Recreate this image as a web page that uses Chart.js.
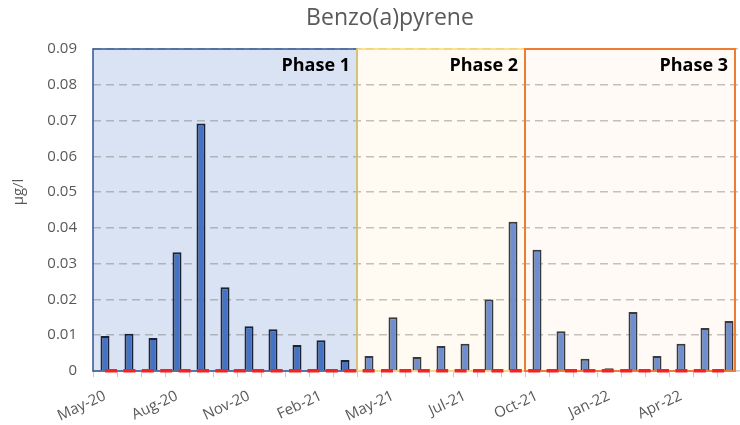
<!DOCTYPE html>
<html>
<head>
<meta charset="utf-8">
<script src="https://cdn.jsdelivr.net/npm/chart.js@4.4.0/dist/chart.umd.min.js"></script>
<style>
  html, body { margin: 0; padding: 0; background: #fff; overflow: hidden; }
</style>
</head>
<body>
<canvas id="bapChart" width="780" height="425"></canvas>
<script>
//sampling months, one bar each (June 2021 was sampled twice)
const months = ['May-20', 'Jun-20', 'Jul-20', 'Aug-20', 'Sep-20', 'Oct-20', 'Nov-20', 'Dec-20', 'Jan-21',
  'Feb-21', 'Mar-21', 'Apr-21', 'May-21', 'Jun-21', 'Jun-21', 'Jul-21', 'Aug-21', 'Sep-21', 'Oct-21',
  'Nov-21', 'Dec-21', 'Jan-22', 'Feb-22', 'Mar-22', 'Apr-22', 'May-22', 'Jun-22'];

//measured benzo(a)pyrene, ug/l
const bapValues = [0.0098, 0.0104, 0.0092, 0.0332, 0.0692, 0.0234, 0.0125, 0.0117, 0.0073, 0.0086, 0.0031,
  0.0042, 0.0150, 0.0039, 0.0070, 0.0076, 0.0200, 0.0417,
  0.0339, 0.0111, 0.0034, 0.0008, 0.0165, 0.0042, 0.0076, 0.0120, 0.0140];

//red dashed reference line along the bottom
const limitValues = [0.0001, 0.0001, 0.0001, 0.0001, 0.0001, 0.0001, 0.0001, 0.0001, 0.0001, 0.0001, 0.0001,
  0.0001, 0.0001, 0.0001, 0.0001, 0.0001, 0.0001, 0.0001, 0.0001, 0.0001, 0.0001, 0.0001, 0.0001, 0.0001,
  0.0001, 0.0001, 0.0001];

//phases, as category positions
const phaseNames = ['Phase 1', 'Phase 2', 'Phase 3'];
const phaseStart = [-0.5, 10.5, 17.5];
const phaseEnd = [10.5, 17.5, 26.25];
const phaseFill = ['#DAE3F3', '#FFFBF3', '#FFFAF6'];
const phaseLine = ['#2F5597', '#FFD966', '#ED7D31'];

const yTicks = [0, 0.01, 0.02, 0.03, 0.04, 0.05, 0.06, 0.07, 0.08, 0.09];

//phase 1 bars are darker than the later ones
const barFill = bapValues.map((v, i) => i <= 10 ? '#4472C4' : '#6E8ECF');
const barLine = bapValues.map((v, i) => i <= 10 ? '#1B2233' : '#3A3A3A');

function phaseBox(chart, i) {
  const x = chart.scales.x, y = chart.scales.y;
  const left = x.getPixelForValue(phaseStart[i]);
  const right = x.getPixelForValue(phaseEnd[i]);
  return { left, right, top: y.getPixelForValue(0.09), bottom: y.getPixelForValue(0) };
}

const phasePlugin = {
  id: 'phases',
  beforeDraw(chart) {
    const ctx = chart.ctx;
    ctx.save();
    phaseNames.forEach((name, i) => {
      const b = phaseBox(chart, i);
      ctx.fillStyle = phaseFill[i];
      ctx.fillRect(b.left, b.top, b.right - b.left, b.bottom - b.top);
    });

    //title is centred on the whole (uncropped) canvas, axis title sits a bit above the middle
    ctx.fillStyle = '#595959';
    ctx.textAlign = 'center';
    ctx.textBaseline = 'middle';
    ctx.font = '23px "Open Sans"';
    ctx.fillText('Benzo(a)pyrene', chart.width / 2, 18);
    ctx.translate(19, 192);
    ctx.rotate(-Math.PI / 2);
    ctx.font = '15px "Open Sans"';
    ctx.fillText('µg/l', 0, 0);
    ctx.restore();
  },
  beforeDatasetsDraw(chart) {
    const ctx = chart.ctx;
    ctx.save();
    phaseNames.forEach((name, i) => {
      const b = phaseBox(chart, i);
      ctx.strokeStyle = phaseLine[i];
      ctx.lineWidth = i === 2 ? 2 : 1.5;
      ctx.strokeRect(b.left, b.top, b.right - b.left, b.bottom - b.top);
      ctx.fillStyle = '#000';
      ctx.font = 'bold 18px "Open Sans"';
      ctx.textAlign = 'right';
      ctx.textBaseline = 'middle';
      ctx.fillText(name, b.right - 7, b.top + 17);
    });
    ctx.restore();
  }
};

let ctx = document.getElementById('bapChart').getContext('2d');
let chart = new Chart(ctx, {
  type: 'bar',
  data: {
    labels: months,
    datasets: [{
      type: 'line',
      data: limitValues,
      borderColor: '#F52222',
      borderWidth: 3.5,
      borderDash: [12, 6.4],
      pointRadius: 0,
      clip: 6,
      order: 0
    }, {
      data: bapValues,
      backgroundColor: barFill,
      borderColor: barLine,
      borderWidth: 2,
      barPercentage: 0.375,
      categoryPercentage: 1,
      order: 1
    }]
  },
  options: {
    responsive: false,
    animation: false,
    layout: { padding: { left: 0, right: 39, top: 49, bottom: 0 } },
    plugins: {
      legend: { display: false },
      tooltip: { enabled: false },
      title: { display: false }
    },
    scales: {
      x: {
        afterFit: scale => { scale.height = 54; },
        grid: { drawOnChartArea: false, drawTicks: true, tickLength: 6, color: '#c8c8c8' },
        border: { color: '#d0d0d0', width: 1.5 },
        ticks: {
          autoSkip: false,
          maxRotation: 25,
          minRotation: 25,
          padding: 10,
          color: '#595959',
          font: { family: 'Open Sans', size: 15 },
          callback: (v, i) => i % 3 === 0 ? months[i] : ''
        }
      },
      y: {
        min: 0,
        max: 0.09,
        afterFit: scale => { scale.width = 93; },
        afterBuildTicks: scale => { scale.ticks = yTicks.map(v => ({ value: v })); },
        grid: { color: 'rgba(120,120,120,0.45)', lineWidth: 1.5, drawTicks: false },
        border: { display: false, dash: [8, 5] },
        ticks: {
          padding: 16,
          color: '#595959',
          font: { family: 'Open Sans', size: 15 },
          callback: v => v === 0 ? '0' : v.toFixed(2)
        }
      }
    }
  },
  plugins: [phasePlugin]
});
</script>
</body>
</html>
